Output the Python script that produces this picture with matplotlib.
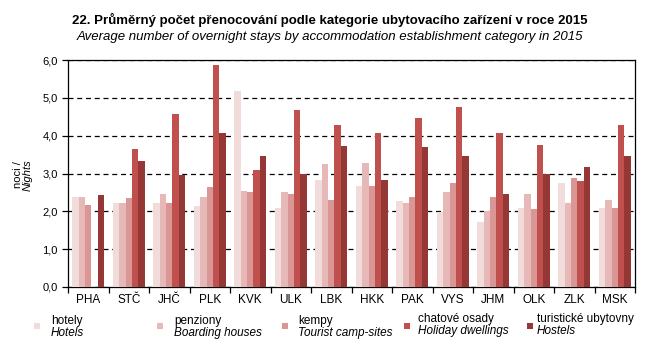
"""
Average number of overnight stays by accommodation category, 2015

"""

import numpy as np
import matplotlib.pyplot as plt
import matplotlib as mpl
from matplotlib.ticker import FuncFormatter, MultipleLocator

mpl.rc('font', family=['Liberation Sans', 'DejaVu Sans'])

#data
regions = ["PHA", "STČ", "JHČ", "PLK", "KVK", "ULK", "LBK", "HKK", "PAK", "VYS", "JHM", "OLK", "ZLK", "MSK"]
hotely = [2.39, 2.23, 2.21, 2.15, 5.19, 2.08, 2.84, 2.68, 2.26, 1.97, 1.73, 2.10, 2.74, 2.10]
penziony = [2.39, 2.21, 2.45, 2.39, 2.55, 2.52, 3.24, 3.29, 2.23, 2.50, 2.00, 2.45, 2.23, 2.31]
kempy = [2.18, 2.34, 2.21, 2.63, 2.50, 2.47, 2.29, 2.66, 2.37, 2.74, 2.39, 2.05, 2.87, 2.10]
chatove = [0.0, 3.66, 4.58, 5.88, 3.08, 4.69, 4.27, 4.08, 4.48, 4.77, 4.08, 3.76, 2.81, 4.29]
ubytovny = [2.42, 3.34, 2.95, 4.08, 3.45, 3.00, 3.74, 2.84, 3.71, 3.47, 2.45, 3.00, 3.16, 3.45]

series = [hotely, penziony, kempy, chatove, ubytovny]
names_cz = ["hotely", "penziony", "kempy", "chatové osady", "turistické ubytovny"]
names_en = ["Hotels", "Boarding houses", "Tourist camp-sites", "Holiday dwellings", "Hostels"]
colors = ["#f2dcdb", "#e6b9b8", "#d99694", "#c0504d", "#953735"]

fig = plt.figure(figsize=(6.54, 3.57), dpi=100)
W, H = 654, 357
ax = fig.add_axes([68 / W, 1 - 287 / H, (635 - 68) / W, (287 - 60) / H])

x = np.arange(len(regions))
bw = 0.156
for i, vals in enumerate(series):
    ax.bar(x + (i - 2) * bw, vals, width=bw, color=colors[i], linewidth=0, zorder=3)

ax.set_xlim(-0.5, len(regions) - 0.5)
ax.set_ylim(0, 6)
ax.yaxis.set_major_locator(MultipleLocator(1))
ax.yaxis.set_major_formatter(FuncFormatter(lambda v, p: f"{v:.1f}".replace(".", ",")))
ax.grid(axis="y", color="black", linestyle=(0, (4, 3)), linewidth=0.9, zorder=1)

ax.set_xticks(x)
ax.set_xticklabels(regions)
ax.set_xticks(np.arange(-0.5, len(regions)), minor=True)
ax.tick_params(axis="x", which="major", length=0, labelsize=8.5, pad=5)
ax.tick_params(axis="x", which="minor", length=4, direction="out", width=0.9)
ax.tick_params(axis="y", length=4, direction="out", labelsize=8, width=0.9)
for s in ax.spines.values():
    s.set_linewidth(0.9)

#y label
fig.text(18 / W, 1 - 175 / H, "noci /", rotation=90, ha="center", va="center", fontsize=8)
fig.text(28 / W, 1 - 175 / H, "Nights", rotation=90, ha="center", va="center", fontsize=8, style="italic")

#titles
fig.text(330 / W, 1 - 20 / H, "22. Průměrný počet přenocování podle kategorie ubytovacího zařízení v roce 2015",
         ha="center", va="center", fontsize=9.5, fontweight="bold")
fig.text(330 / W, 1 - 37 / H, "Average number of overnight stays by accommodation establishment category in 2015",
         ha="center", va="center", fontsize=9.5, style="italic")

#legend
sq_x = [37, 160, 285, 407, 530]
tx_x = [51, 174, 298, 418, 537]
ty1 = [321, 321, 321, 319, 319]
ty2 = [333, 333, 333, 331, 331]
lax = fig.add_axes([0, 0, 1, 1])
lax.set_xlim(0, W)
lax.set_ylim(H, 0)
lax.axis("off")
for i in range(5):
    lax.scatter(sq_x[i], 326, marker="s", s=22, color=colors[i], linewidths=0)
    lax.text(tx_x[i], ty1[i], names_cz[i], fontsize=8.5, va="center")
    lax.text(tx_x[i], ty2[i], names_en[i], fontsize=8.5, va="center", style="italic")

plt.savefig("out.png", dpi=100)
plt.close()
